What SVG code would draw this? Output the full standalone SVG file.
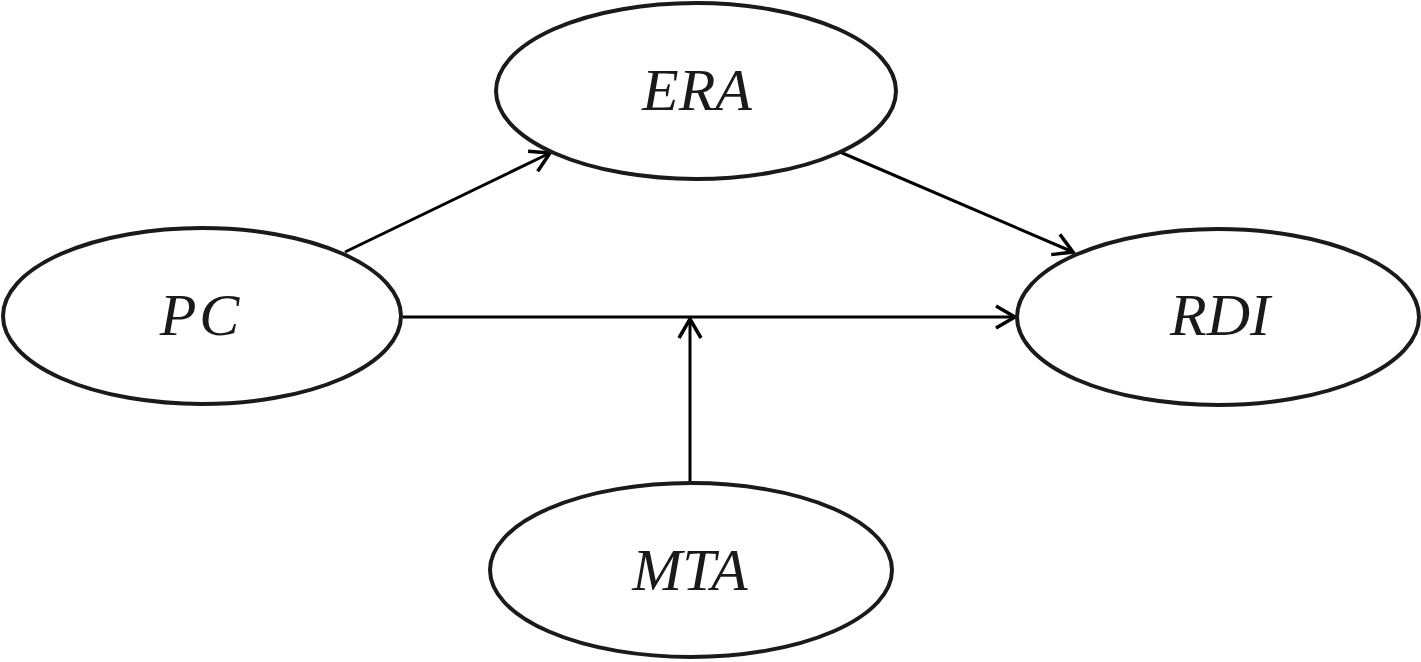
<svg xmlns="http://www.w3.org/2000/svg" width="1421" height="662" viewBox="0 0 1421 662">
<style>
.node ellipse{fill:#fff;stroke:#1a1a1a;stroke-width:4}
.node text{font-family:"Liberation Serif","Times New Roman",serif;font-style:italic;font-size:60px;fill:#1a1a1a;text-anchor:middle}
.edge{stroke:#000;stroke-width:3;fill:none;marker-end:url(#arr)}
</style>
<defs>
<marker id="arr" markerWidth="30" markerHeight="30" refX="20" refY="10" viewBox="0 0 30 20" markerUnits="userSpaceOnUse" orient="auto">
<path d="M1,-1 L20,10 L1,21" fill="none" stroke="#000" stroke-width="3.5"/>
</marker>
</defs>
<rect width="1421" height="662" fill="#fff"/>
<g id="connectors">
<line class="edge" x1="345" y1="252" x2="550" y2="153"/>
<line class="edge" x1="840" y1="152" x2="1073" y2="252"/>
<line class="edge" x1="403" y1="317" x2="1015" y2="317"/>
<line class="edge" x1="690" y1="484" x2="690" y2="319"/>
</g>
<g id="ERA" class="node"><ellipse cx="696" cy="91" rx="200" ry="88"/><text x="697" y="110">ERA</text></g>
<g id="PC" class="node"><ellipse cx="202" cy="316" rx="199" ry="88"/><text x="201" y="335" letter-spacing="3">PC</text></g>
<g id="RDI" class="node"><ellipse cx="1218" cy="317" rx="201" ry="88"/><text x="1220" y="335">RDI</text></g>
<g id="MTA" class="node"><ellipse cx="691" cy="570" rx="201" ry="87"/><text x="690" y="590" font-size="57">MTA</text></g>
</svg>
